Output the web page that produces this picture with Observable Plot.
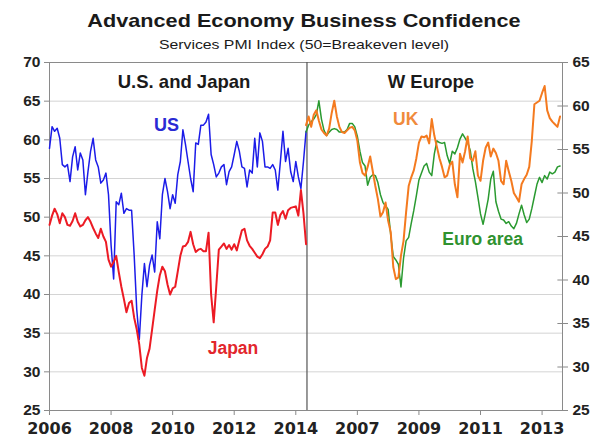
<!DOCTYPE html>
<html>
<head>
<meta charset="utf-8">
<script src="https://cdn.jsdelivr.net/npm/d3@7"></script>
<script src="https://cdn.jsdelivr.net/npm/@observablehq/plot@0.6"></script>
<style>
  body { margin: 0; background: #fff; font-family: "Liberation Sans", Arial, sans-serif; }
  #wrap { position: relative; width: 598px; height: 444px; overflow: hidden; }
  #title { position: absolute; top: 10px; left: 5px; width: 598px; text-align: center; font-weight: bold; font-size: 19px; color: #1a1a1a; transform: scaleX(1.14); }
  #subtitle { position: absolute; top: 37px; left: 5px; width: 598px; text-align: center; font-size: 13.5px; color: #1a1a1a; transform: scaleX(1.17); }
  #chart { position: absolute; top: 0; left: 0; }
</style>
</head>
<body>
<div id="wrap">
  <div id="chart"></div>
  <div id="title">Advanced Economy Business Confidence</div>
  <div id="subtitle">Services PMI Index (50=Breakeven level)</div>
</div>
<script>
// ---- Data (monthly Services PMI) ----
// Left panel: US and Japan, monthly from Jan 2006
const usJapanStartYear = 2006;
const usValues = [58.9,61.7,61.1,61.5,60.2,56.8,56.5,56.8,54.6,57.8,59.1,56.1,
  58.3,57.4,52.9,55.9,58.5,60.2,57.4,56.5,54.4,54.8,55.7,52.9,
  46.4,42.0,52.0,51.6,53.1,50.5,51.1,50.9,50.9,45.1,38.1,34.2,
  39.9,44.0,41.0,43.8,45.1,42.9,49.4,47.2,52.9,55.0,53.3,51.1,
  52.9,51.8,55.5,57.2,61.3,59.4,57.2,55.0,53.3,59.6,59.4,61.9,
  61.9,62.3,63.3,58.1,56.8,55.2,55.7,56.5,56.8,54.2,55.9,56.5,
  58.1,59.8,58.5,56.5,56.3,53.9,56.1,55.7,60.2,56.5,60.9,59.8,
  56.5,56.5,56.3,56.8,56.1,53.5,57.2,61.1,57.2,58.9,55.9,54.6,
  57.2,55.2,53.7,57.2,61.1];
const japanValues = [49.0,50.2,51.1,50.4,49.2,50.5,50.0,49.0,48.9,49.5,50.5,49.4,
  48.8,49.0,49.6,50.0,49.4,48.6,47.9,47.3,48.5,47.5,46.8,44.5,
  43.6,44.2,45.0,42.9,41.0,39.4,37.7,38.9,39.2,37.0,35.5,33.5,
  30.5,29.5,31.8,33.0,35.5,38.0,40.5,42.5,43.6,43.0,41.3,40.0,
  40.8,41.0,43.0,45.0,46.2,46.3,46.8,48.1,46.5,45.5,45.8,45.9,
  45.6,45.6,48.0,40.0,36.4,41.0,45.8,46.2,46.6,45.9,46.4,45.8,
  46.5,45.7,47.0,48.3,48.5,47.0,46.3,45.9,45.4,44.9,44.7,45.2,
  45.9,46.2,47.0,50.6,50.6,49.0,50.3,50.8,49.8,50.9,51.2,51.3,
  51.4,50.2,53.5,50.5,46.5];
// Right panel: UK and Euro area, monthly from May 2005 (right-hand scale)
const europeStartYear = 2005 + 4 / 12;
const ukValues = [57.8,58.8,57.6,59.0,59.5,58.3,57.3,56.9,56.6,57.4,59.2,60.6,
  58.8,57.6,57.0,56.9,57.2,57.5,57.6,57.2,56.0,53.5,52.3,52.0,
  53.0,54.2,52.5,50.8,49.3,47.3,47.8,48.9,46.8,45.5,41.5,40.1,
  40.3,42.8,44.5,47.8,50.8,51.8,52.6,54.0,55.8,56.5,56.4,56.6,
  55.7,58.5,56.6,55.3,54.0,53.0,51.8,52.0,53.2,53.6,51.0,49.5,
  54.5,53.5,54.8,56.5,54.0,53.7,54.8,52.0,51.4,53.7,55.2,55.8,
  54.2,55.1,54.6,53.7,51.4,51.0,53.7,52.5,51.4,50.0,49.5,49.0,
  51.0,51.6,52.1,53.0,56.0,60.2,60.4,60.6,61.5,62.3,59.5,58.6,
  58.2,57.9,57.6,58.8];
const euroValues = [57.0,57.8,58.2,58.5,59.0,60.6,58.5,57.2,56.6,57.0,57.3,57.4,
  57.3,57.0,57.0,57.0,57.3,58.0,58.0,57.6,56.5,54.8,53.5,53.1,
  50.9,51.8,52.1,52.0,51.2,49.8,48.9,48.5,48.1,45.2,42.7,42.3,
  41.8,39.2,42.5,44.5,44.9,46.5,48.0,49.7,51.5,52.3,53.1,53.4,
  52.4,52.0,54.5,56.0,55.8,55.7,55.8,54.3,53.4,54.8,54.5,55.2,
  56.2,56.8,56.3,55.8,54.9,52.8,51.3,49.5,47.6,46.4,47.8,49.3,
  51.6,52.5,49.0,47.9,47.0,46.9,46.5,46.7,46.2,45.9,46.5,47.6,
  48.6,47.5,46.6,47.0,48.2,49.6,51.0,51.8,51.2,52.0,51.6,52.4,
  52.2,52.4,53.0,53.1];

const leftTicks = [25, 30, 35, 40, 45, 50, 55, 60, 65, 70];
const rightTicks = [25, 30, 35, 40, 45, 50, 55, 60, 65];
const leftYearTicks = [2006, 2008, 2010, 2012, 2014];
const rightYearTicks = [2007, 2009, 2011, 2013];

// Right panel sits 9 years to the right on the shared time axis;
// its right-hand scale (25-65) spans the same height as the left one (25-70).
const panelShift = 9;
const leftMin = 25, leftMax = 70, rightMin = 25, rightMax = 65;
const toLeft = v => leftMin + (v - rightMin) * (leftMax - leftMin) / (rightMax - rightMin);
const fromLeft = v => rightMin + (v - leftMin) * (rightMax - rightMin) / (leftMax - leftMin);

const series = (vals, start, name, shift = 0, conv = v => v) =>
  vals.map((v, i) => ({x: start + i / 12 + shift, y: conv(v), name}));

const us = series(usValues, usJapanStartYear, "US");
const japan = series(japanValues, usJapanStartYear, "Japan");
const uk = series(ukValues, europeStartYear, "UK", panelShift, toLeft);
const euro = series(euroValues, europeStartYear, "Euro area", panelShift, toLeft);

const lastEuropeYear = europeStartYear + (ukValues.length - 1) / 12 + panelShift;
const xDomain = [usJapanStartYear, lastEuropeYear + 0.08];
const dividerX = europeStartYear + panelShift + 0.03;

const xTicks = [...leftYearTicks, ...rightYearTicks.map(y => y + panelShift)];
const xFormat = t => String(t > dividerX ? t - panelShift : t);

const labels = [
  {text: "U.S. and Japan", x: 2010.37, y: 67.5, color: "#1a1a1a", size: 18.5},
  {text: "W Europe", x: 2018.39, y: 67.5, color: "#1a1a1a", size: 18.5},
  {text: "US", x: 2009.8, y: 61.85, color: "#2a2ad4", size: 18},
  {text: "Japan", x: 2011.96, y: 33.0, color: "#e2262c", size: 17.5},
  {text: "UK", x: 2017.57, y: toLeft(58.5), color: "#f08a3c", size: 17.5},
  {text: "Euro area", x: 2020.07, y: toLeft(44.7), color: "#2f922f", size: 17.5}
];

const font = "'Liberation Sans', Arial, sans-serif";
const wideFont = "'DejaVu Sans', Verdana, sans-serif";

const chart = Plot.plot({
  width: 598,
  height: 444,
  marginLeft: 49,
  marginRight: 36,
  marginTop: 62,
  marginBottom: 34,
  style: {fontFamily: font, fontSize: "15.5px", fontWeight: "bold", color: "#222", background: "transparent"},
  x: {type: "linear", domain: xDomain},
  y: {domain: [leftMin, leftMax]},
  marks: [
    Plot.gridY(leftTicks, {stroke: "#d4d4d4", strokeOpacity: 1, strokeWidth: 1}),
    Plot.frame({stroke: "#8a8a8a", strokeWidth: 1}),
    Plot.axisY(leftTicks, {anchor: "left", tickSize: 5, tickPadding: 4, label: null, stroke: "#8a8a8a", fill: "#222", tickFormat: d => String(d)}),
    Plot.axisY(rightTicks.map(toLeft), {anchor: "right", tickSize: 5, tickPadding: 5, label: null, stroke: "#8a8a8a", fill: "#222", tickFormat: t => String(Math.round(fromLeft(t)))}),
    Plot.ruleY(rightTicks.map(toLeft), {x1: xDomain[1] - 0.15, x2: xDomain[1], stroke: "#8a8a8a"}),
    Plot.axisX(xTicks, {anchor: "bottom", tickSize: 5, tickPadding: 7, label: null, stroke: "#8a8a8a", fill: "#222", fontFamily: wideFont, fontSize: 16, tickFormat: xFormat}),
    Plot.ruleX([dividerX], {stroke: "#555", strokeWidth: 1.2}),
    Plot.line(us, {x: "x", y: "y", stroke: "#1c1ce8", strokeWidth: 1.5}),
    Plot.line(japan, {x: "x", y: "y", stroke: "#ec1b24", strokeWidth: 2}),
    Plot.line(euro, {x: "x", y: "y", stroke: "#2a9a30", strokeWidth: 1.5}),
    Plot.line(uk, {x: "x", y: "y", stroke: "#f47a1f", strokeWidth: 2}),
    Plot.text(labels, {x: "x", y: "y", text: "text", fill: "color", fontSize: "size", fontWeight: "bold", fontFamily: font})
  ]
});
document.getElementById("chart").appendChild(chart);
</script>
</body>
</html>
